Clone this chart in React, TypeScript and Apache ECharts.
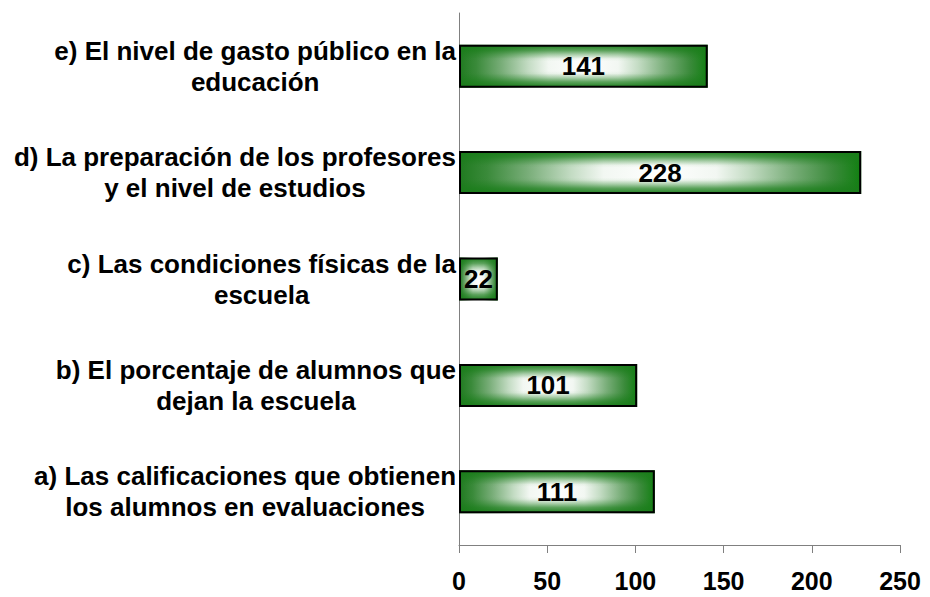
import React, { useEffect, useRef } from "react";
import * as echarts from "echarts";

const categories: string[][] = [
  ["a) Las calificaciones que obtienen", "los alumnos en evaluaciones"],
  ["b) El porcentaje de alumnos que", "dejan la escuela"],
  ["c) Las condiciones físicas de la", "escuela"],
  ["d) La preparación de los profesores", "y el nivel de estudios"],
  ["e) El nivel de gasto público en la", "educación"],
];
const values: number[] = [111, 101, 22, 228, 141];
const xTicks = { min: 0, max: 250, interval: 50 };

const FONT = "'Liberation Sans', Arial, sans-serif";
const G = "26,125,26";

export default function App() {
  const ref = useRef<HTMLDivElement>(null);
  useEffect(() => {
    if (!ref.current) return;
    const chart = echarts.init(ref.current, null, { renderer: "svg" });
    const labels = categories.map((c) => c.join("\n"));
    chart.setOption({
      animation: false,
      backgroundColor: "#ffffff",
      grid: { left: 459, right: 30, top: 13, bottom: 52, containLabel: false },
      xAxis: {
        type: "value",
        min: xTicks.min,
        max: xTicks.max,
        interval: xTicks.interval,
        splitLine: { show: false },
        axisLine: { show: true, lineStyle: { color: "#808080", width: 1 } },
        axisTick: { show: true, length: 8, lineStyle: { color: "#808080" } },
        axisLabel: {
          color: "#000",
          fontFamily: FONT,
          fontWeight: "bold",
          fontSize: 25,
          lineHeight: 22,
          margin: 25,
        },
      },
      yAxis: {
        type: "category",
        data: labels,
        axisLine: { show: true, lineStyle: { color: "#808080", width: 1 } },
        axisTick: { show: false },
        axisLabel: {
          margin: 3,
          formatter: (v: string) =>
            v
              .split("\n")
              .map((l) => "{c|" + l + "}")
              .join("\n"),
          rich: {
            c: {
              align: "center",
              color: "#000",
              fontFamily: FONT,
              fontWeight: "bold",
              fontSize: 26,
              lineHeight: 31,
            },
          },
        },
      },
      series: [
        {
          type: "bar",
          data: values,
          barWidth: 43,
          barGap: "-100%",
          silent: true,
          itemStyle: {
            color: new echarts.graphic.LinearGradient(0, 0, 1, 0, [
              { offset: 0, color: "#1f7a1f" },
              { offset: 0.07, color: "#3a8a3a" },
              { offset: 0.17, color: "#78ad78" },
              { offset: 0.28, color: "#c4dcc4" },
              { offset: 0.36, color: "#f2f7f2" },
              { offset: 0.5, color: "#ffffff" },
              { offset: 0.64, color: "#f2f7f2" },
              { offset: 0.72, color: "#c4dcc4" },
              { offset: 0.83, color: "#78ad78" },
              { offset: 0.93, color: "#3a8a3a" },
              { offset: 1, color: "#117f11" },
            ]),
          },
        },
        {
          type: "bar",
          data: values,
          barWidth: 43,
          barGap: "-100%",
          itemStyle: {
            borderColor: "#000",
            borderWidth: 2,
            color: new echarts.graphic.LinearGradient(0, 0, 0, 1, [
              { offset: 0, color: `rgba(${G},0.95)` },
              { offset: 0.12, color: `rgba(${G},0.7)` },
              { offset: 0.22, color: `rgba(${G},0.35)` },
              { offset: 0.32, color: `rgba(${G},0.05)` },
              { offset: 0.38, color: `rgba(${G},0)` },
              { offset: 0.62, color: `rgba(${G},0)` },
              { offset: 0.68, color: `rgba(${G},0.05)` },
              { offset: 0.78, color: `rgba(${G},0.35)` },
              { offset: 0.88, color: `rgba(${G},0.7)` },
              { offset: 1, color: `rgba(${G},0.95)` },
            ]),
          },
          label: {
            show: true,
            position: "inside",
            color: "#000",
            fontFamily: FONT,
            fontWeight: "bold",
            fontSize: 26,
          },
        },
      ],
    });
    return () => chart.dispose();
  }, []);
  return <div ref={ref} style={{ width: 930, height: 597, position: "absolute", left: 0, top: 0 }} />;
}
